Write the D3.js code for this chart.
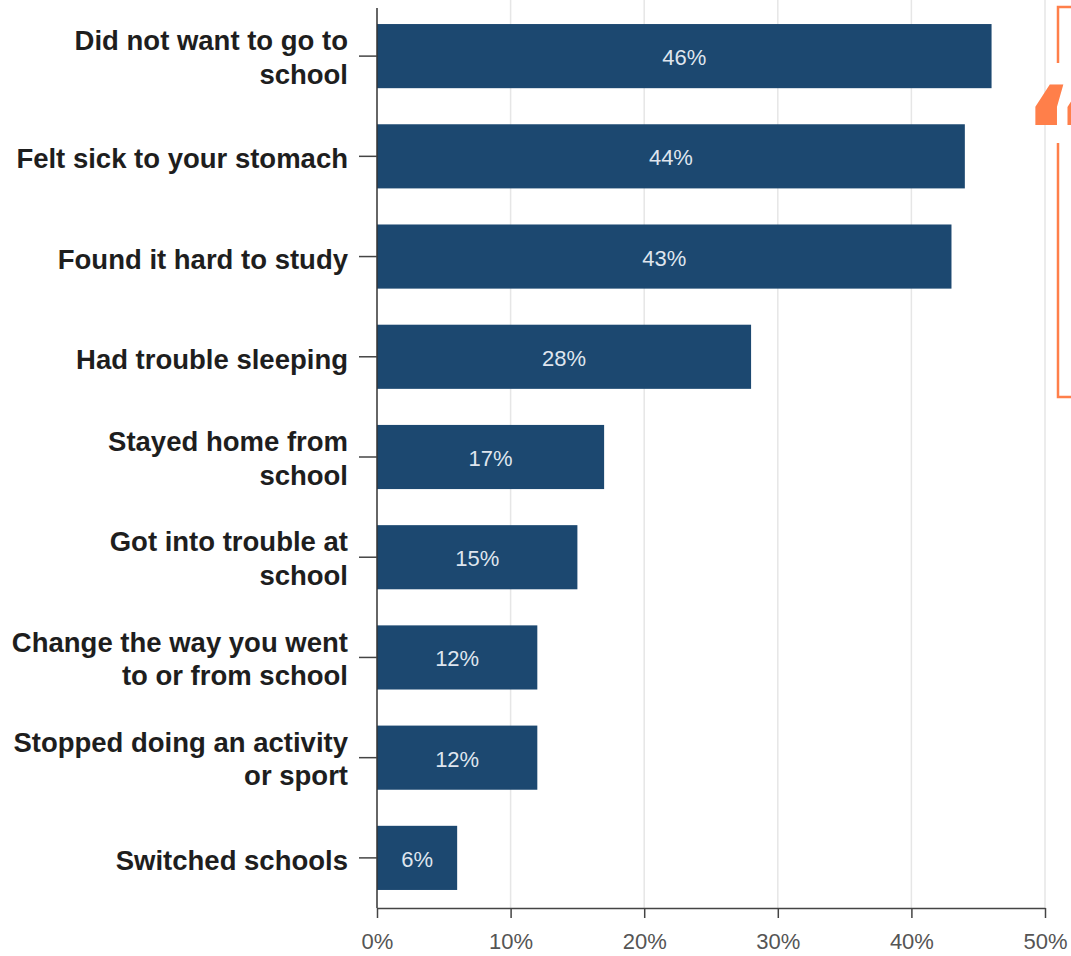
<!DOCTYPE html>
<html><head><meta charset="utf-8">
<script src="https://cdn.jsdelivr.net/npm/d3@7"></script>
<style>body{margin:0;background:#fff}svg{display:block}</style>
</head><body>
<svg id="c" width="1071" height="956"></svg>
<script>
const categories = [
  ["Did not want to go to","school"],
  ["Felt sick to your stomach"],
  ["Found it hard to study"],
  ["Had trouble sleeping"],
  ["Stayed home from","school"],
  ["Got into trouble at","school"],
  ["Change the way you went","to or from school"],
  ["Stopped doing an activity","or sport"],
  ["Switched schools"]
];
const values = [46,44,43,28,17,15,12,12,6];
const xTicks = [0,10,20,30,40,50];

const svg = d3.select("#c");
const x = d3.scaleLinear().domain([0,50]).range([377,1045]);
const y = d3.scaleBand().domain(d3.range(categories.length)).range([6,908]).paddingInner(0.36).paddingOuter(0.18);
const FONT = "Liberation Sans, Arial, sans-serif";

// gridlines
svg.append("g").selectAll("line").data(xTicks.slice(1)).join("line")
  .attr("x1",d=>x(d)).attr("x2",d=>x(d)).attr("y1",0).attr("y2",908)
  .attr("stroke","#e6e6e6").attr("stroke-width",1.5);

// bars
svg.append("g").selectAll("rect").data(values).join("rect")
  .attr("x",x(0)).attr("y",(d,i)=>y(i)).attr("width",d=>x(d)-x(0)).attr("height",y.bandwidth())
  .attr("fill","#1c4870");

svg.append("g").selectAll("text").data(values).join("text")
  .attr("x",d=>(x(d)+x(0))/2).attr("y",(d,i)=>y(i)+y.bandwidth()/2+9)
  .attr("text-anchor","middle").attr("font-family",FONT)
  .attr("font-size",22).attr("fill","#dfe5ee").text(d=>d+"%");

// x axis
const xa = svg.append("g").attr("transform","translate(0,908)")
  .call(d3.axisBottom(x).tickValues(xTicks).tickFormat(d=>d+"%").tickSize(10).tickSizeOuter(0));
xa.select(".domain").attr("stroke","#444").attr("stroke-width",1.5);
xa.selectAll(".tick line").attr("stroke","#444").attr("stroke-width",1.5);
xa.selectAll("text").attr("font-family",FONT).attr("font-size",22).attr("fill","#555").attr("y",25).attr("dy","0.71em");

// y axis
svg.append("line").attr("x1",377).attr("x2",377).attr("y1",8).attr("y2",908).attr("stroke","#333").attr("stroke-width",1.5);
const yl = svg.append("g");
categories.forEach((lines,i)=>{
  const cy = y(i)+y.bandwidth()/2;
  yl.append("line").attr("x1",359).attr("x2",377).attr("y1",cy).attr("y2",cy).attr("stroke","#444").attr("stroke-width",1.5);
  const t = yl.append("text").attr("text-anchor","end").attr("font-family",FONT)
    .attr("font-weight","bold").attr("font-size",27.5).attr("fill","#1e1e1e");
  const n = lines.length;
  lines.forEach((l,j)=>{
    t.append("tspan").attr("x",348).attr("y",cy + (n===1?12:11) + (j-(n-1)/2)*33.5).text(l);
  });
});

// orange callout box (cut off at right)
const oc = "#ff7f4a";
const box = svg.append("g").attr("stroke",oc).attr("stroke-width",2.5).attr("fill","none");
box.append("path").attr("d","M1071,7 H1058 V63");
box.append("path").attr("d","M1058,143 V397 H1071");
svg.append("text").attr("x",1022).attr("y",179).attr("font-family","DejaVu Sans, sans-serif").attr("font-weight","bold")
  .attr("font-size",130).attr("fill",oc).text("\u201C");
</script>
</body></html>
